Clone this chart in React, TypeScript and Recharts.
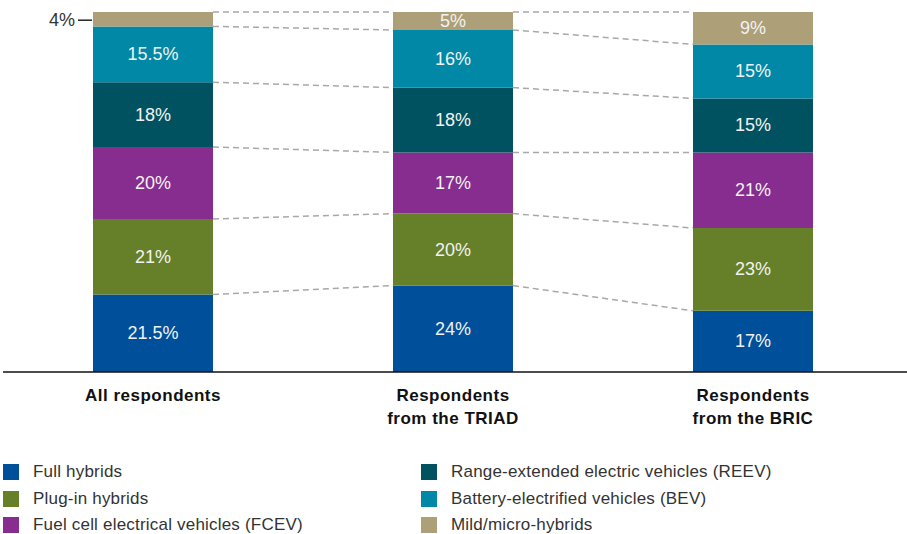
import React from 'react'
import { Bar, ComposedChart, LabelList, Line, XAxis, YAxis } from 'recharts'

const categories = ['All respondents', 'Respondents\nfrom the TRIAD', 'Respondents\nfrom the BRIC']

const seriesNames = [
    'Full hybrids',
    'Plug-in hybrids',
    'Fuel cell electrical vehicles (FCEV)',
    'Range-extended electric vehicles (REEV)',
    'Battery-electrified vehicles (BEV)',
    'Mild/micro-hybrids',
]
const seriesColors = ['#004f9b', '#66802a', '#862d8f', '#005260', '#0088a6', '#ad9f78']

const fullHybrids = [21.5, 24, 17]
const plugInHybrids = [21, 20, 23]
const fcev = [20, 17, 21]
const reev = [18, 18, 15]
const bev = [15.5, 16, 15]
const mildHybrids = [4, 5, 9]

const seriesValues = [fullHybrids, plugInHybrids, fcev, reev, bev, mildHybrids]
const keys = ['s0', 's1', 's2', 's3', 's4', 's5']

const data = categories.map((name, i) => {
    const row: Record<string, number | string> = { name }
    let sum = 0
    seriesValues.forEach((vals, s) => {
        row[keys[s]] = vals[i]
        sum += vals[i]
        row['c' + s] = sum
    })
    return row
})

const FONT = '"Liberation Sans", Arial, sans-serif'
const BAR = 120
const HALF = BAR / 2

// d3 curve that only draws the pieces in the gaps between bars
const gapCurve = (ctx: any) => {
    let pts: { x: number; y: number }[] = []
    return {
        areaStart() { },
        areaEnd() { },
        lineStart() { pts = [] },
        lineEnd() {
            for (let i = 0; i < pts.length - 1; i++) {
                ctx.moveTo(pts[i].x + HALF, pts[i].y)
                ctx.lineTo(pts[i + 1].x - HALF, pts[i + 1].y)
            }
        },
        point(x: number, y: number) { pts.push({ x, y }) },
    }
}

const CategoryTick = ({ x, y, payload }: any) => {
    const lines = String(payload.value).split('\n')
    return (
        <text x={x} y={y} textAnchor='middle' fontFamily={FONT} fontWeight={700} fontSize={17} letterSpacing={0.5} fill='#111'>
            {lines.map((l, i) => (
                <tspan key={i} x={x} dy={i === 0 ? 29 : 23}>{l}</tspan>
            ))}
        </text>
    )
}

const makeLabel = (s: number) => (props: any) => {
    const { index } = props
    const x = Number(props.x), y = Number(props.y), w = Number(props.width), h = Number(props.height)
    const v = seriesValues[s][index]
    const cy = y + h / 2
    if (v < 5) {
        return (
            <g>
                <text x={x - 18} y={cy + 1} textAnchor='end' dominantBaseline='central' fontFamily={FONT} fontSize={18} fill='#333'>{v}%</text>
                <line x1={x - 15} x2={x - 1} y1={cy + 1} y2={cy + 1} stroke='#222' strokeWidth={1.5} />
            </g>
        )
    }
    return (
        <text x={x + w / 2} y={cy} textAnchor='middle' dominantBaseline='central' fontFamily={FONT} fontSize={18} fill='#f2f2f2'>{v}%</text>
    )
}

const legendOrder = [0, 3, 1, 4, 2, 5]

export default function App() {
    return (
        <div style={{ position: 'absolute', left: 0, top: 0, width: 907, height: 534, background: '#fff' }}>
            <ComposedChart width={907} height={440} data={data} margin={{ top: 12, right: 0, left: 3, bottom: 0 }}>
                <XAxis
                    dataKey='name'
                    height={68}
                    padding={{ left: 0, right: 4 }}
                    axisLine={{ stroke: '#111', strokeWidth: 1.5 }}
                    tickLine={false}
                    tickSize={0}
                    tickMargin={0}
                    tick={<CategoryTick />}
                    interval={0}
                />
                <YAxis hide domain={[0, 100]} />
                {keys.map((k, s) => (
                    <Bar key={k} dataKey={k} stackId='a' fill={seriesColors[s]} barSize={BAR} isAnimationActive={false}>
                        <LabelList dataKey={k} content={makeLabel(s)} />
                    </Bar>
                ))}
                {keys.map((k, s) => (
                    <Line
                        key={'c' + s}
                        dataKey={'c' + s}
                        type={gapCurve as any}
                        stroke='#a8a8a8'
                        strokeWidth={1.5}
                        strokeDasharray='6 4'
                        dot={false}
                        activeDot={false}
                        isAnimationActive={false}
                    />
                ))}
            </ComposedChart>
            {legendOrder.map((s, i) => {
                const col = i % 2
                const row = Math.floor(i / 2)
                return (
                    <div key={s} style={{ position: 'absolute', left: col === 0 ? 3 : 421, top: 464 + row * 26.5, height: 16, display: 'flex', alignItems: 'center' }}>
                        <div style={{ width: 16, height: 16, background: seriesColors[s] }} />
                        <span style={{ marginLeft: 14, fontFamily: FONT, fontSize: 17, color: '#333', whiteSpace: 'nowrap', letterSpacing: 0.2 }}>{seriesNames[s]}</span>
                    </div>
                )
            })}
        </div>
    )
}
